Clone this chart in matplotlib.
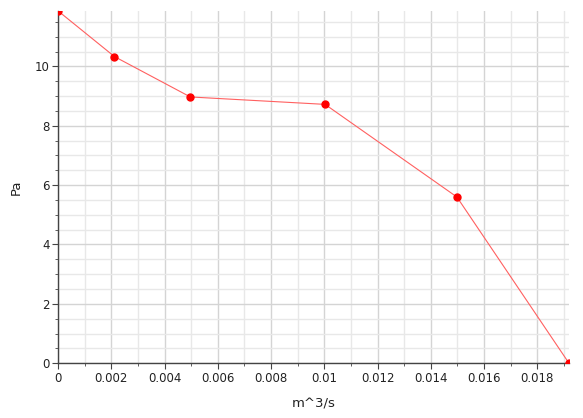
import matplotlib
matplotlib.use("Agg")
import matplotlib.pyplot as plt
from matplotlib.ticker import MultipleLocator, FuncFormatter

flow = [0.0, 0.00212, 0.00497, 0.01003, 0.01498, 0.01919]
pressure = [11.87, 10.33, 8.97, 8.72, 5.60, 0.0]
x_label = "m^3/s"
y_label = "Pa"

fig = plt.figure(figsize=(5.83, 4.18), dpi=100)
ax = fig.add_axes([0.0995, 0.131, 0.8765, 0.843])

ax.plot(flow, pressure, color="#ff6060", lw=0.8, zorder=3)
ax.plot(flow, pressure, "o", color="#ff0000", ms=5, zorder=4, mec="#ff0000")

ax.set_xlim(0, flow[-1])
ax.set_ylim(0, pressure[0])
ax.xaxis.set_major_locator(MultipleLocator(0.002))
ax.xaxis.set_minor_locator(MultipleLocator(0.001))
ax.yaxis.set_major_locator(MultipleLocator(2))
ax.yaxis.set_minor_locator(MultipleLocator(0.5))


def fmt(v, pos):
    return ("%.3f" % v).rstrip("0").rstrip(".")


ax.xaxis.set_major_formatter(FuncFormatter(fmt))

ax.grid(which="major", color="#d4d4d4", lw=1.0)
ax.grid(which="minor", color="#e8e8e8", lw=1.0)
ax.set_axisbelow(True)

for s in ["top", "right"]:
    ax.spines[s].set_visible(False)
for s in ["left", "bottom"]:
    ax.spines[s].set_color("#444444")
    ax.spines[s].set_linewidth(1.0)

ax.tick_params(which="major", length=4, color="#444444", labelsize=8.5, labelcolor="#222222", pad=2)
ax.tick_params(which="minor", length=2, color="#444444")

ax.set_xlabel(x_label, fontsize=9.5, labelpad=9, color="#222222")
ax.set_ylabel(y_label, fontsize=9.5, labelpad=9, color="#222222")

fig.savefig("out.png", dpi=100)
